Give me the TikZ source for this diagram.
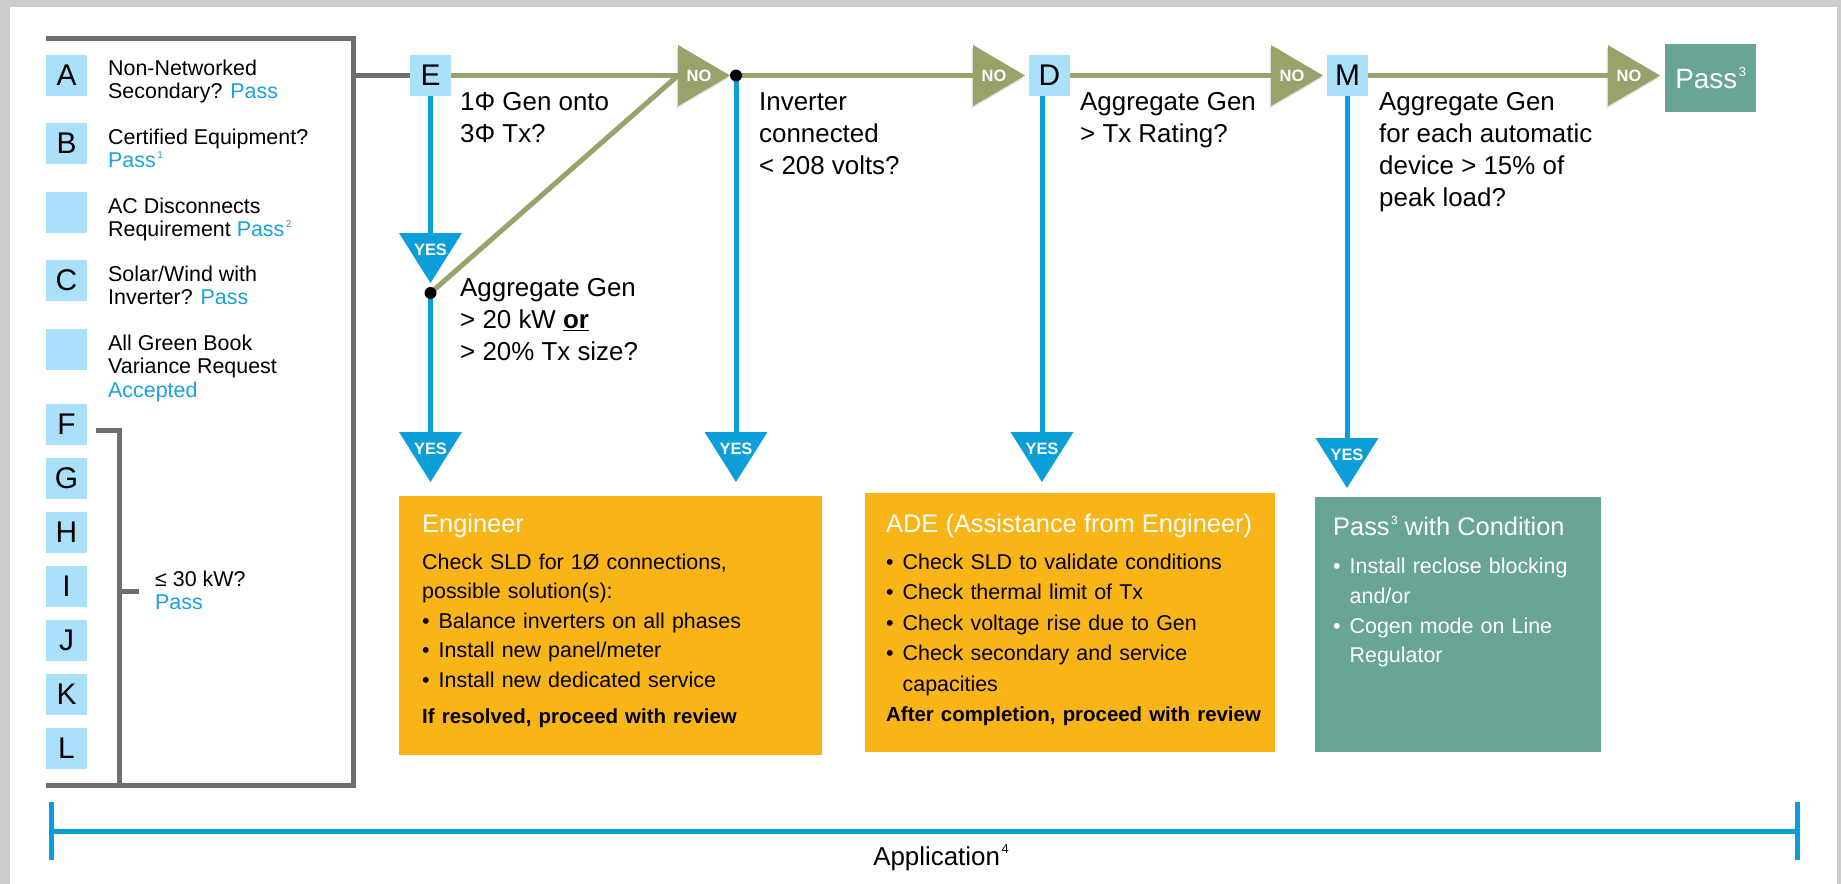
\documentclass[tikz,border=0pt]{standalone}
\usepackage{fontspec}
\setmainfont{Liberation Sans}
\usetikzlibrary{positioning,arrows.meta,shadows}

\definecolor{lblue}{RGB}{170,224,249}
\definecolor{ablue}{RGB}{12,158,217}
\definecolor{passblue}{RGB}{27,161,219}
\definecolor{nogreen}{RGB}{152,163,107}
\definecolor{fgray}{RGB}{109,110,113}
\definecolor{eorange}{RGB}{249,180,24}
\definecolor{passteal}{RGB}{104,165,148}

\newcommand\fnote[2][10]{\hspace{1.5bp}\raisebox{.45em}{\fontsize{#1}{#1}\selectfont #2}}
\newcommand\bul{\makebox[16.5bp][l]{•}}
\newcommand\passtxt[1]{\textcolor{passblue}{#1}}

\tikzset{
  letter/.style={fill=lblue, minimum size=41bp, inner sep=0pt, font=\fontsize{30}{30}\selectfont},
  crit/.style={anchor=north west, align=left, inner sep=0pt, font=\fontsize{21.5}{24}\selectfont},
  question/.style={anchor=north west, align=left, inner sep=0pt, font=\fontsize{26}{32}\selectfont},
  grayline/.style={draw=fgray, line width=5bp},
  yesline/.style={draw=ablue, line width=5bp},
  noline/.style={draw=nogreen, line width=5bp},
  tag/.style={text=white, inner sep=0pt, font=\bfseries\fontsize{16.5}{16.5}\selectfont},
  dot/.style={circle, fill=black, minimum size=12bp, inner sep=0pt},
  obox/.style={anchor=north west, fill=eorange, inner sep=0pt},
  boxtext/.style={anchor=north west, align=left, inner sep=0pt, text width=#1},
}

\begin{document}
\begin{tikzpicture}[x=1bp,y=-1bp]
    \useasboundingbox (0,0) rectangle (1841,884);
    \fill[black!20] (0,0) rectangle (1841,884);
    \fill[white] (10,7) rectangle (1837,884);

    % left panel
    \draw[grayline] (46,38.5) -| (353.5,785.5) -- (46,785.5);
    \draw[grayline] (96,430) -| (119,785.5);
    \draw[grayline] (119,591) -- (139,591);
    \node[letter] (A) at (66.5,75.5) {A};
    \node[letter] (B) at (66.5,143.5) {B};
    \node[letter] (ACD) at (66.5,212.5) {};
    \node[letter] (C) at (66.5,280.5) {C};
    \node[letter] (GB) at (66.5,349.5) {};
    \foreach \l [count=\i from 0] in {F,G,H,I,J,K,L}
        \node[letter] (\l) at (66.5,424.5+54*\i) {\l};
    \node[crit] (tA) at (108,59.3) {Non-Networked\\Secondary? \passtxt{Pass}};
    \node[crit] (tB) at (108,128.3) {Certified Equipment?\\\passtxt{Pass\fnote{1}}};
    \node[crit] (tACD) at (108,197.3) {AC Disconnects\\Requirement \passtxt{Pass\fnote{2}}};
    \node[crit] (tC) at (108,265.3) {Solar/Wind with\\Inverter? \passtxt{Pass}};
    \node[crit] (tGB) at (108,334.3) {All Green Book\\Variance Request\\\passtxt{Accepted}};
    \node[crit] (tFL) at (155,570.3) {≤ 30 kW?\\\passtxt{Pass}};
    \coordinate (fr) at (353.5,75.5);

    % decision boxes
    \node[letter] (E) at (430.5,75.5) {E};
    \node[letter] (D) at (1049.5,75.5) {D};
    \node[letter] (M) at (1347.5,75.5) {M};
    \node[fill=passteal, anchor=north west, minimum width=91bp, minimum height=68bp, inner sep=0pt,
          text=white, font=\fontsize{28}{28}\selectfont] (pass) at (1665,44) {Pass\fnote[13]{3}};
    \coordinate (j1) at (736,75.5);
    \coordinate (j2) at (430.5,293);

    % triangles
    \foreach \x/\y/\n in {430.5/233/ya, 430.5/432/yb, 736/432/yc, 1042/432/yd, 1347/438/ye} {
        \coordinate (\n) at (\x,\y);
        \fill[ablue] (\x-31.5,\y) -- (\x+31.5,\y) -- (\x,\y+50) -- cycle;
        \node[tag] (\n-t) at (\x,\y+17) {YES};
    }
    \foreach \x/\n in {678/n1, 973/n2, 1271/n3, 1608/n4} {
        \coordinate (\n) at (\x,75.5);
        \fill[nogreen, drop shadow={shadow xshift=-1.5bp, shadow yshift=-2.5bp, opacity=.25}]
            (\x,45) -- (\x+52,75.5) -- (\x,106) -- cycle;
        \node[tag] (\n-t) at (\x+21,75.5) {NO};
    }

    % links
    \draw[grayline] (fr) -- (E.west);
    \draw[noline] (E.east) -- (n1);
    \draw[noline] (j2) -- (n1);
    \draw[noline] (j1) -- (n2);
    \draw[noline] (D.east) -- (n3);
    \draw[noline] (M.east) -- (n4);
    \draw[yesline] (E.south) -- (ya);
    \draw[yesline] (j2) -- (yb);
    \draw[yesline] (j1) -- (yc);
    \draw[yesline] (yd |- D.south) -- (yd);
    \draw[yesline] (ye |- M.south) -- (ye);
    \node[dot] (j1d) at (j1) {};
    \node[dot] (j2d) at (j2) {};

    % questions
    \node[question] (q1) at (460,92.7) {1Φ Gen onto\\3Φ Tx?};
    \node[question] (q2) at (460,278.7) {Aggregate Gen\\> 20 kW \underline{\textbf{or}}\\> 20\% Tx size?};
    \node[question] (q3) at (759,92.7) {Inverter\\connected\\< 208 volts?};
    \node[question] (q4) at (1080,92.7) {Aggregate Gen\\> Tx Rating?};
    \node[question] (q5) at (1379,92.7) {Aggregate Gen\\for each automatic\\device > 15\% of\\peak load?};

    % outcome boxes
    \node[obox, minimum width=423bp, minimum height=259bp] (eng) at (399,496) {};
    \node[boxtext=395bp, below right=18bp and 23bp of eng.north west,
          font=\fontsize{21.5}{29.5}\selectfont] (engtxt) {%
        {\fontsize{25.5}{30}\selectfont\color{white}Engineer\par}\vspace{7.5bp}
        Check SLD for 1Ø connections,\\possible solution(s):\\
        \bul Balance inverters on all phases\\
        \bul Install new panel/meter\\
        \bul Install new dedicated service\par\vspace{7bp}
        {\bfseries\fontsize{20.5}{29.5}\selectfont If resolved, proceed with review\par}};

    \node[obox, minimum width=410bp, minimum height=259bp] (ade) at (865,493) {};
    \node[boxtext=390bp, below right=21bp and 21bp of ade.north west,
          font=\fontsize{21.5}{30.5}\selectfont] (adetxt) {%
        {\fontsize{25.5}{30}\selectfont\color{white}ADE (Assistance from Engineer)\par}\vspace{6.5bp}
        \bul Check SLD to validate conditions\\
        \bul Check thermal limit of Tx\\
        \bul Check voltage rise due to Gen\\
        \bul Check secondary and service\\\hspace*{16.5bp}capacities\par
        {\bfseries\fontsize{20.5}{30.5}\selectfont After completion, proceed with review\par}};

    \node[obox, fill=passteal, minimum width=286bp, minimum height=255bp] (pc) at (1315,497) {};
    \node[boxtext=262bp, below right=19bp and 18bp of pc.north west, text=white,
          font=\fontsize{21.5}{29.7}\selectfont] (pctxt) {%
        {\fontsize{25.5}{30}\selectfont Pass\fnote[12]{3} with Condition\par}\vspace{8.3bp}
        \bul Install reclose blocking\\\hspace*{16.5bp}and/or\\
        \bul Cogen mode on Line\\\hspace*{16.5bp}Regulator};

    % application span
    \coordinate (al) at (49,831);
    \coordinate (ar) at (1800,831);
    \draw[yesline, {Bar[width=58bp]}-{Bar[width=58bp]}] (al) -- (ar);
    \node[font=\fontsize{26}{26}\selectfont] (app) at (941,858) {Application\fnote[13]{4}};
\end{tikzpicture}
\end{document}
